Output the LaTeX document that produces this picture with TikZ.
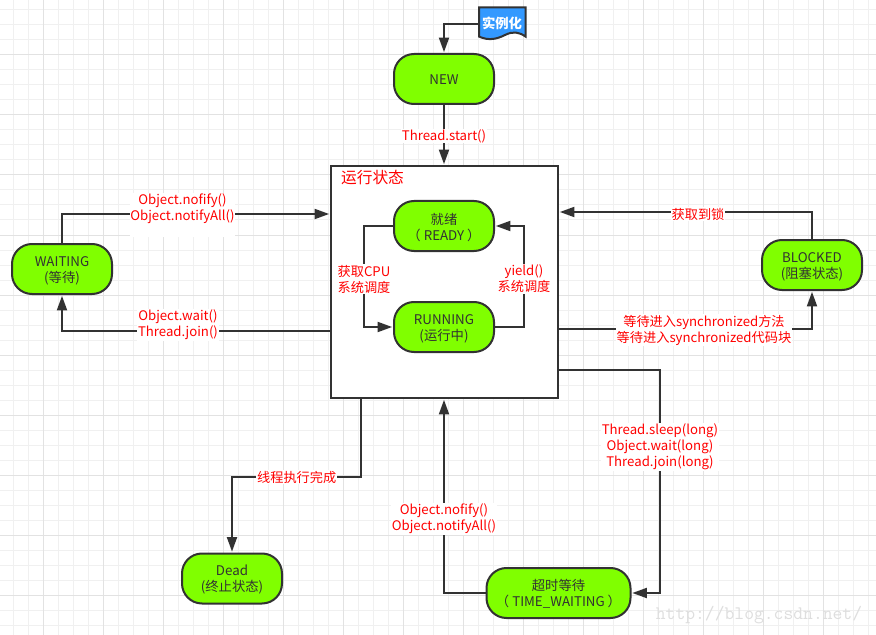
\documentclass[tikz,border=0pt]{standalone}
\usepackage{fontspec}
\setmainfont{Noto Sans CJK SC}
\usetikzlibrary{arrows.meta}
\definecolor{stateGreen}{HTML}{80FF00}
\definecolor{docBlue}{HTML}{3399FF}
\definecolor{lineDark}{HTML}{323232}
\definecolor{gridMinor}{HTML}{F0F0F0}
\definecolor{gridMajor}{HTML}{E2E2E2}
\newcommand{\nudge}[1]{\rule{0pt}{#1}}
\tikzset{
    state/.style={draw=lineDark, fill=stateGreen, line width=1.5pt, rounded corners=15pt, minimum width=75pt, minimum height=37.5pt, align=center, text=lineDark, inner sep=0pt, font=\fontsize{10}{12}\selectfont},
    flow/.style={draw=lineDark, line width=1.5pt, ->, shorten >=0.6pt},
    tag/.style={text=red, fill=white, align=center, inner sep=0.6pt, font=\fontsize{9.9}{12}\selectfont},
    >={Triangle[length=11pt, width=7.5pt]}
}

\begin{document}
\begin{tikzpicture}[x=0.75pt, y=-0.75pt]
    \useasboundingbox (0, 0) rectangle (876, 635);
    \fill[white] (0, 0) rectangle (876, 635);

    % grid
    \foreach \gx in {13, 28, ..., 868} {\draw[gridMinor, line width=0.75pt] (\gx, 0) -- (\gx, 635);}
    \foreach \gy in {10, 25, ..., 625} {\draw[gridMinor, line width=0.75pt] (0, \gy) -- (876, \gy);}
    \foreach \gx in {43, 103, ..., 823} {\draw[gridMajor, line width=0.75pt] (\gx, 0) -- (\gx, 635);}
    \foreach \gy in {55, 115, ..., 595} {\draw[gridMajor, line width=0.75pt] (0, \gy) -- (876, \gy);}

    % running box
    \node(RunBox) [draw=lineDark, fill=white, line width=1.5pt, minimum width=170.25pt, minimum height=174pt, inner sep=0pt] at (444.5, 282) {};
    \node(RunTitle) [text=red, font=\fontsize{11.8}{14}\selectfont] at (372.5, 177.5) {运行状态};

    % instantiate document
    \node(Instance) [minimum width=34.5pt, minimum height=21.5pt, inner sep=0pt] at (502.3, 22) {};
    \draw[draw=lineDark, fill=docBlue, line width=1.5pt] (Instance.north west) -- (Instance.north east) -- (Instance.south east)
        .. controls (519, 32) and (513, 31) .. (505, 35) .. controls (497, 39) and (489, 41) .. (Instance.south west) -- cycle;
    \node(InstanceText) [text=white, font=\fontsize{10}{12}\selectfont\bfseries] at (502, 23) {实例化};

    % states
    \node(New) [state] at (444, 79) {\nudge{9pt}NEW};
    \node(Ready) [state] at (444, 226) {\nudge{10pt}就绪\\（ READY ）};
    \node(Running) [state] at (444, 327) {\nudge{10pt}RUNNING\\(运行中)};
    \node(Waiting) [state] at (62, 269) {\nudge{10pt}WAITING\\(等待)};
    \node(Blocked) [state] at (812, 265) {\nudge{10pt}BLOCKED\\(阻塞状态)};
    \node(Dead) [state] at (232, 578.5) {\nudge{10pt}Dead\\(终止状态)};
    \node(TimeWaiting) [state, minimum width=108pt] at (558.5, 593) {\nudge{10pt}超时等待\\（ TIME\_WAITING ）};

    % free ends on the running box
    \coordinate(BoxWaitIn) at (RunBox.west |- 0, 214);
    \coordinate(BoxWaitOut) at (RunBox.west |- 0, 331);
    \coordinate(BoxLockIn) at (RunBox.east |- 0, 212);
    \coordinate(BoxLockOut) at (RunBox.east |- 0, 329);
    \coordinate(BoxTimeOut) at (RunBox.east |- 0, 370);
    \coordinate(BoxDeadOut) at (361, 0 |- RunBox.south);

    % connectors
    \draw[flow] (Instance.west |- 0, 24) -| (New.north);
    \draw[flow] (New.south) -- (RunBox.north -| New.south);
    \draw[flow] (Waiting.north) |- (BoxWaitIn);
    \draw[flow] (BoxWaitOut) -| (Waiting.south);
    \draw[flow] (Ready.west) -- (364, 226) |- (Running.west);
    \draw[flow] (Running.east) -- (524, 327) |- (Ready.east);
    \draw[flow] (Blocked.north) |- (BoxLockIn);
    \draw[flow] (BoxLockOut) -| (Blocked.south);
    \draw[flow] (BoxTimeOut) -- (660, 370) |- (TimeWaiting.east);
    \draw[flow] (TimeWaiting.west) -| (RunBox.south -| New.south);
    \draw[flow] (BoxDeadOut) -- (361, 477) -| (Dead.north);

    % labels
    \node(StartTag) [tag] at (444, 136) {Thread.start()};
    \node(NotifyTag) [tag] at (182.5, 215) {Object.nofify()\\Object.notifyAll()\\~};
    \node(WaitTag) [tag] at (178, 325) {Object.wait()\\Thread.join()};
    \node(CpuTag) [tag] at (364, 279) {获取CPU\\系统调度};
    \node(YieldTag) [tag] at (524, 279) {yield()\\系统调度};
    \node(LockTag) [tag] at (698, 214) {获取到锁};
    \node(SyncTag) [tag] at (704, 330) {等待进入synchronized方法\\等待进入synchronized代码块};
    \node(SleepTag) [tag] at (660, 447) {Thread.sleep(long)\\Object.wait(long)\\Thread.join(long)};
    \node(BackTag) [tag] at (444, 519) {Object.nofify()\\Object.notifyAll()};
    \node(DeadTag) [tag] at (296.7, 477) {线程执行完成};

    \node(Watermark) [text=black!13, font=\fontsize{14.3}{16}\ttfamily] at (759, 615) {http://blog.csdn.net/};
\end{tikzpicture}
\end{document}
